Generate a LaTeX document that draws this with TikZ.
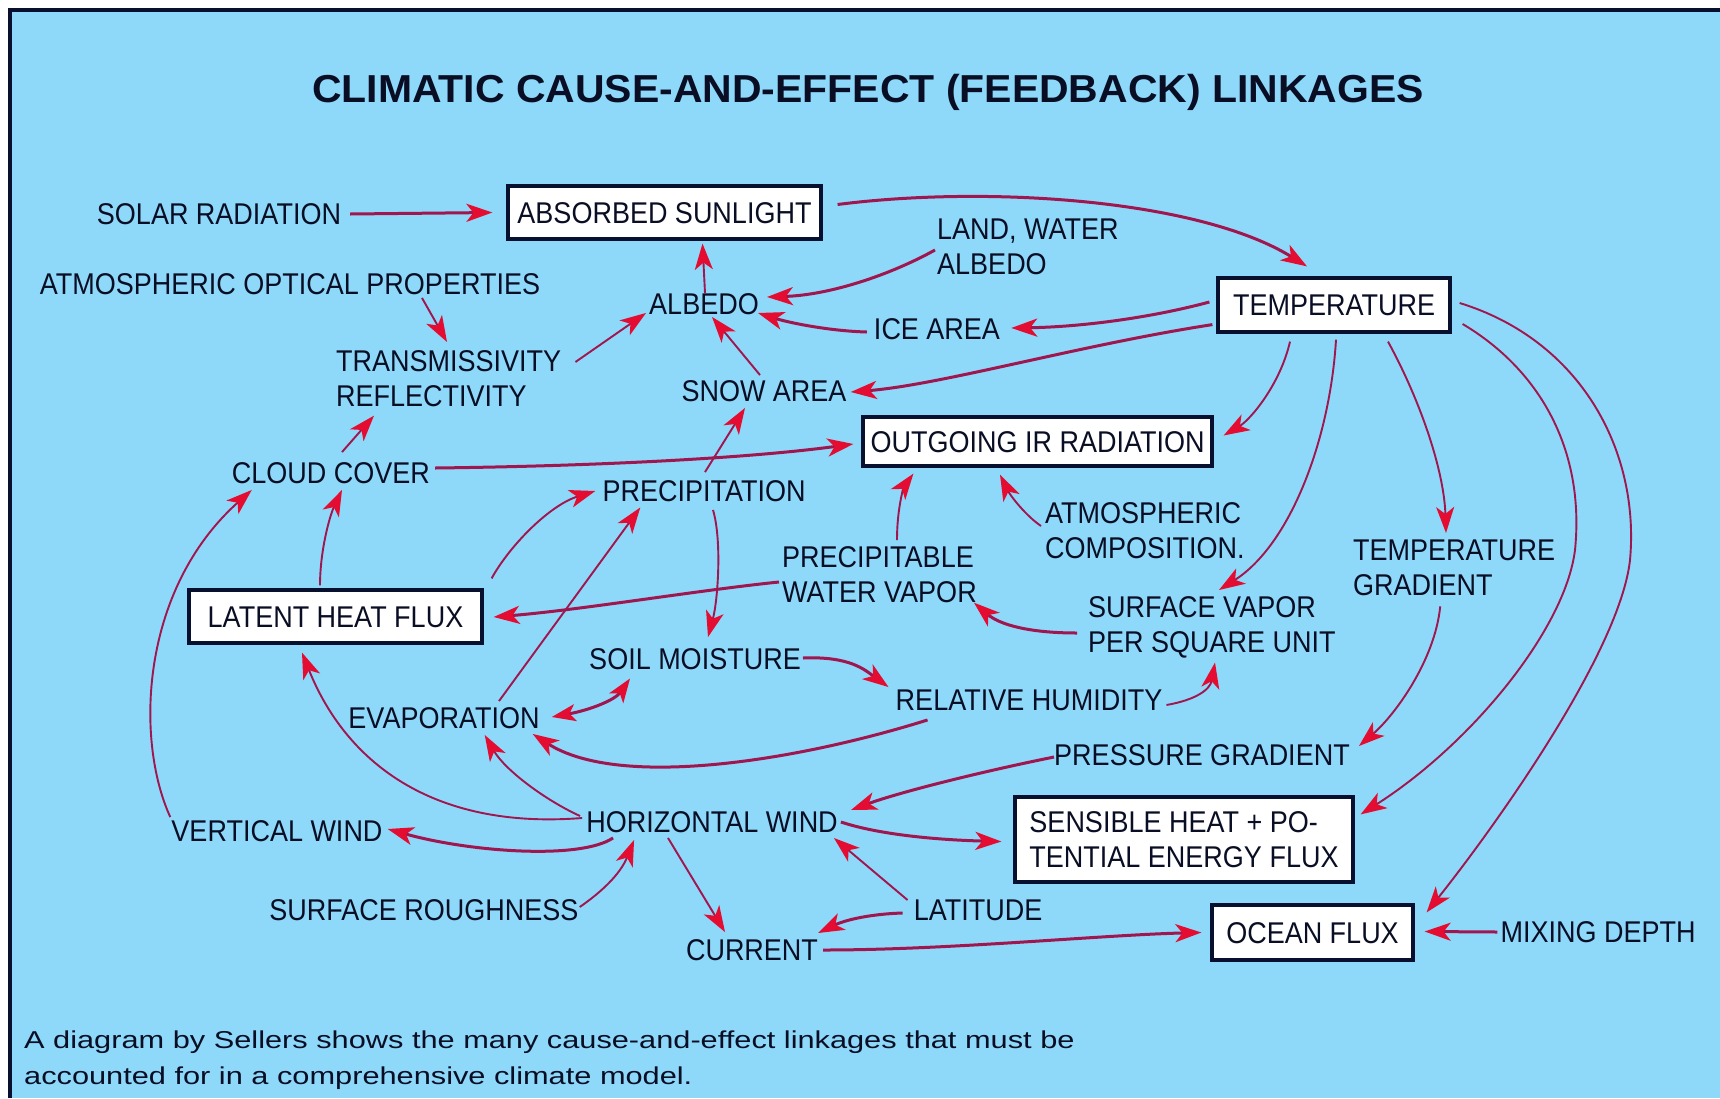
\documentclass[tikz,border=0pt]{standalone}
\usepackage{fontspec}
\setmainfont{Liberation Sans}
\newfontfamily\labfont{Liberation Sans}[FakeStretch=0.9]
\newfontfamily\titlefont{Liberation Sans}[FakeStretch=1.05]
\newfontfamily\capfont{Liberation Sans}[FakeStretch=1.26]
\usetikzlibrary{arrows.meta,calc}
\definecolor{bgblue}{RGB}{142,216,250}
\definecolor{navy}{RGB}{8,16,48}
\definecolor{txtc}{RGB}{10,14,36}
\definecolor{lnk}{RGB}{160,22,78}
\definecolor{tipred}{RGB}{228,12,48}
\tikzset{
 lab/.style={font=\labfont\fontsize{30}{35}\selectfont, inner sep=0pt, text=txtc, text height=21.5pt, text depth=0pt},
 mlab/.style={font=\labfont\fontsize{30}{35}\selectfont, inner sep=0pt, text=txtc, align=left, anchor=north west},
 boxn/.style={lab, draw=navy, line width=3.2pt, fill=white},
 lk/.style={draw=lnk, line width=3pt, -{Stealth[length=26pt,width=18pt,inset=7pt,color=tipred]}},
 lkt/.style={lk, line width=1.9pt},
 lkd/.style={draw=lnk, line width=3pt, arrows={Stealth[length=24pt,width=17pt,inset=6pt,color=tipred]-Stealth[length=24pt,width=17pt,inset=6pt,color=tipred]}},
}
\begin{document}
\begin{tikzpicture}[x=1pt,y=-1pt]
\useasboundingbox (0,0) rectangle (1720,1098);
\fill[white] (0,0) rectangle (1720,1098);
\fill[navy] (8,8) rectangle (1720,1098);
\fill[bgblue] (12,12) rectangle (1720,1098);

% title
\node[font=\titlefont\bfseries\fontsize{39}{44}\selectfont, text=txtc, inner sep=0pt, text height=28pt, text depth=0pt] (title) at (868,88) {CLIMATIC CAUSE-AND-EFFECT (FEEDBACK) LINKAGES};

% nodes
\node[lab] (solar) at (219,214) {SOLAR RADIATION};
\node[boxn, minimum width=313pt, minimum height=53pt] (abs) at (664.5,212.5) {ABSORBED SUNLIGHT};
\node[lab] (aop) at (290,284) {ATMOSPHERIC OPTICAL PROPERTIES};
\node[lab] (albedo) at (704,304) {ALBEDO};
\node[mlab] (trans) at (336,350) {TRANSMISSIVITY\\REFLECTIVITY};
\node[lab] (snow) at (764,391) {SNOW AREA};
\node[lab] (cloud) at (331,473) {CLOUD COVER};
\node[lab] (precip) at (704,491) {PRECIPITATION};
\node[boxn, minimum width=349pt, minimum height=49pt] (oir) at (1037.5,441.5) {OUTGOING IR RADIATION};
\node[boxn, minimum width=232pt, minimum height=54pt] (temp) at (1334,305) {TEMPERATURE};
\node[mlab] (land) at (937,219) {LAND, WATER\\ALBEDO};
\node[lab] (ice) at (937,329) {ICE AREA};
\node[mlab] (atmc) at (1045,502) {ATMOSPHERIC\\COMPOSITION.};
\node[mlab] (tg) at (1353,540) {TEMPERATURE\\GRADIENT};
\node[mlab] (pwv) at (782,546) {PRECIPITABLE\\WATER VAPOR};
\node[mlab] (sv) at (1088,596) {SURFACE VAPOR\\PER SQUARE UNIT};
\node[boxn, minimum width=293pt, minimum height=53pt] (lhf) at (335.5,616.5) {LATENT HEAT FLUX};
\node[lab] (soil) at (695,659) {SOIL MOISTURE};
\node[lab] (rh) at (1029,700) {RELATIVE HUMIDITY};
\node[lab] (evap) at (444,718) {EVAPORATION};
\node[lab] (pg) at (1202,755) {PRESSURE GRADIENT};
\node[lab] (hw) at (712,822) {HORIZONTAL WIND};
\node[lab] (vw) at (277,831) {VERTICAL WIND};
\node[boxn, text height={}, text depth={}, align=left, minimum width=338pt, minimum height=85pt] (sens) at (1184,839.5) {SENSIBLE HEAT + PO-\\TENTIAL ENERGY FLUX};
\node[lab] (sr) at (424,910) {SURFACE ROUGHNESS};
\node[lab] (lat) at (978,910) {LATITUDE};
\node[lab] (cur) at (752,950) {CURRENT};
\node[boxn, minimum width=201pt, minimum height=55pt] (ocean) at (1312.5,932.5) {OCEAN FLUX};
\node[lab] (mix) at (1598,932) {MIXING DEPTH};

% caption
\node[font=\capfont\fontsize{24.4}{36}\selectfont, text=txtc, inner sep=0pt, align=left, anchor=north west] (cap) at (24,1031) {A diagram by Sellers shows the many cause-and-effect linkages that must be\\accounted for in a comprehensive climate model.};

% connectors
\draw[lk] ($(solar.east)+(9,0)$) -- ($(abs.west)+(-14,0)$);
\draw[lk] ($(abs.east)+(15,-8)$) .. controls (990,185) and (1200,200) .. ($(temp.north)+(-27,-10)$);
\draw[lkt] ($(albedo.north)+(1,0)$) -- ($(abs.south)+(38,3)$);
\draw[lkt] ($(snow.north)+(-4,-5)$) -- ($(albedo.south)+(8,2)$);
\draw[lk] ($(land.north west)+(-2,31)$) .. controls (890,275) and (830,295) .. ($(albedo.east)+(8,-7)$);
\draw[lk] ($(ice.west)+(-7,3)$) .. controls (830,331) and (790,323) .. ($(albedo.east)+(-1,9)$);
\draw[lk] ($(temp.west)+(-7,-3)$) .. controls (1150,318) and (1080,327) .. ($(ice.east)+(11,-1)$);
\draw[lk] ($(temp.south west)+(-4,-9)$) .. controls (1080,345) and (940,385) .. ($(snow.east)+(4,1)$);
\draw[lkt] ($(temp.south)+(-44,8)$) .. controls (1280,385) and (1250,420) .. ($(oir.east)+(10,-6)$);
\draw[lkt] ($(temp.south)+(2,6)$) .. controls (1330,440) and (1290,545) .. ($(sv.north west)+(131,-6)$);
\draw[lkt] ($(temp.south)+(54,8)$) .. controls (1420,400) and (1444,470) .. ($(tg.north west)+(93,-7)$);
\draw[lkt] ($(temp.east)+(11,19)$) .. controls (1540,370) and (1585,450) .. (1575,550) .. controls (1565,630) and (1470,745) .. ($(sens.north east)+(6,19)$);
\draw[lkt] ($(temp.east)+(8,-2)$) .. controls (1580,340) and (1640,450) .. (1630,560) .. controls (1620,650) and (1500,820) .. ($(ocean.north east)+(12,9)$);
\draw[lkt] ($(tg.south)+(-14,10)$) .. controls (1435,660) and (1395,715) .. ($(pg.east)+(9,-9)$);
\draw[lk] ($(pg.west)+(0,2)$) .. controls (980,772) and (900,792) .. ($(hw.east)+(13,-12)$);
\draw[lk] ($(hw.east)+(3,0)$) .. controls (880,835) and (940,840) .. ($(sens.west)+(-12,2)$);
\draw[lkt] ($(lat.west)+(-6,-10)$) -- ($(hw.east)+(-4,16)$);
\draw[lk] ($(lat.west)+(-11,3)$) .. controls (870,914) and (845,920) .. ($(cur.east)+(0,-17)$);
\draw[lk] ($(cur.east)+(5,0)$) .. controls (950,950) and (1100,935) .. ($(ocean.west)+(-9,0)$);
\draw[lk] ($(mix.west)+(-3,0)$) -- ($(ocean.east)+(10,-1)$);
\draw[lkt] ($(hw.south)+(-44,5)$) -- ($(cur.north)+(-27,-7)$);
\draw[lkt] ($(sr.east)+(1,-3)$) .. controls (600,893) and (620,875) .. ($(hw.south west)+(48,7)$);
\draw[lk] ($(hw.south west)+(27,5)$) .. controls (580,860) and (470,852) .. ($(vw.east)+(5,-2)$);
\draw[lkt] ($(hw.west)+(-4,-4)$) .. controls (430,830) and (345,760) .. ($(lhf.south)+(-33.5,8)$);
\draw[lkt] ($(hw.west)+(-6,-6)$) .. controls (545,800) and (505,770) .. ($(evap.south east)+(-55,6)$);
\draw[lkt] ($(vw.north west)+(-1,-3)$) .. controls (135,740) and (140,590) .. ($(cloud.south west)+(20,6)$);
\draw[lkt] ($(lhf.north)+(-15.5,-3)$) .. controls (320,550) and (330,515) .. ($(cloud.south)+(11,6)$);
\draw[lkt] ($(cloud.north)+(11,-10)$) -- ($(trans.south west)+(38,9)$);
\draw[lkt] ($(aop.south)+(132,3)$) -- ($(trans.north west)+(111,-8)$);
\draw[lkt] ($(trans.north east)+(14,12)$) -- ($(albedo.south west)+(-3,-2)$);
\draw[lk] ($(cloud.east)+(5,-5)$) .. controls (600,466) and (750,458) .. ($(oir.west)+(-8,2.5)$);
\draw[lkt] ($(precip.north)+(1,-8)$) -- ($(snow.south)+(-19,6)$);
\draw[lkt] ($(precip.south)+(9,8)$) .. controls (722,540) and (718,600) .. ($(soil.north)+(13,-11)$);
\draw[lkt] ($(lhf.north east)+(8,-10)$) .. controls (510,545) and (550,505) .. ($(precip.west)+(-7,0)$);
\draw[lkt] ($(evap.north)+(55,-6)$) -- ($(precip.south west)+(38,5.5)$);
\draw[lk] ($(pwv.north west)+(-3,36)$) .. controls (700,590) and (580,610) .. ($(lhf.east)+(10,0.5)$);
\draw[lkt] ($(pwv.north west)+(115,-6)$) .. controls (897,505) and (905,485) .. ($(oir.south west)+(52,6)$);
\draw[lkt] ($(atmc.north west)+(-4,24)$) .. controls (1025,515) and (1010,495) .. ($(oir.south)+(-37.5,7)$);
\draw[lk] ($(sv.north west)+(-11,37)$) .. controls (1030,633) and (1000,625) .. ($(pwv.south east)+(-3,0)$);
\draw[lkt] ($(rh.east)+(4,5)$) .. controls (1195,700) and (1210,690) .. ($(sv.south west)+(127,4.5)$);
\draw[lk] ($(soil.east)+(2,-1)$) .. controls (850,656) and (865,670) .. ($(rh.north west)+(-7,-2)$);
\draw[lkd] ($(evap.east)+(12,-1)$) .. controls (590,710) and (615,700) .. ($(soil.south west)+(41,8.5)$);
\draw[lk] ($(rh.south west)+(32,9)$) .. controls (800,760) and (620,790) .. ($(evap.south east)+(-7,5)$);
\end{tikzpicture}
\end{document}
